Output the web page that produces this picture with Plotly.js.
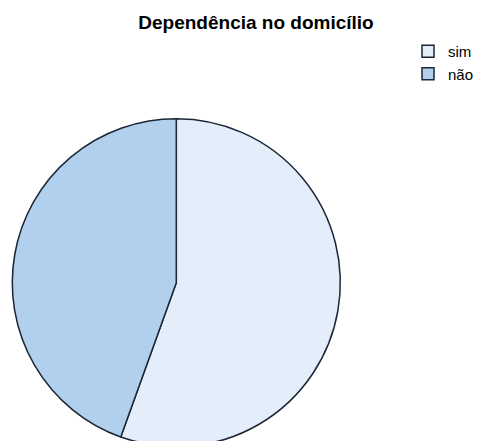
<!DOCTYPE html>
<html>
<head>
<meta charset="utf-8">
<script src="https://cdn.plot.ly/plotly-3.0.1.min.js"></script>
<style>
html,body{margin:0;padding:0;overflow:hidden;background:#fff;}
#chart{width:479px;height:450px;}
</style>
</head>
<body>
<div id="chart"></div>
<script>
const categories = ["sim", "não"];
const shares = [55.5, 44.5];
const sliceColors = ["#e3eefa", "#b1d0ee"];
const chartTitle = "Dependência no domicílio";

const W = 479, H = 450;
const cx = 176.3, cy = 282.7, r = 164;

const data = [{
  type: "pie",
  labels: categories,
  values: shares,
  sort: false,
  direction: "clockwise",
  rotation: 0,
  textinfo: "none",
  hoverinfo: "label+percent",
  marker: {colors: sliceColors, line: {color: "#1c2636", width: 1.5}},
  domain: {x: [(cx - r) / W, (cx + r) / W], y: [1 - (cy + r) / H, 1 - (cy - r) / H]}
}];

const layout = {
  width: W, height: H,
  margin: {l: 0, r: 0, t: 0, b: 0},
  paper_bgcolor: "#ffffff",
  font: {family: "Liberation Sans, Arial, sans-serif", color: "#000"},
  title: {
    text: chartTitle,
    font: {family: "Liberation Sans, Arial, sans-serif", size: 19, weight: "bold", color: "#000"},
    x: 256 / W, xanchor: "center", xref: "paper",
    y: 1 - 22 / H, yanchor: "middle", yref: "container"
  },
  showlegend: true,
  legend: {
    x: 408 / W, xanchor: "left", y: 1 - 35 / H, yanchor: "top",
    font: {size: 15, color: "#000"},
    itemwidth: 30, tracegroupgap: 0,
    bgcolor: "rgba(0,0,0,0)"
  }
};

Plotly.newPlot("chart", data, layout, {staticPlot: true});
</script>
</body>
</html>
